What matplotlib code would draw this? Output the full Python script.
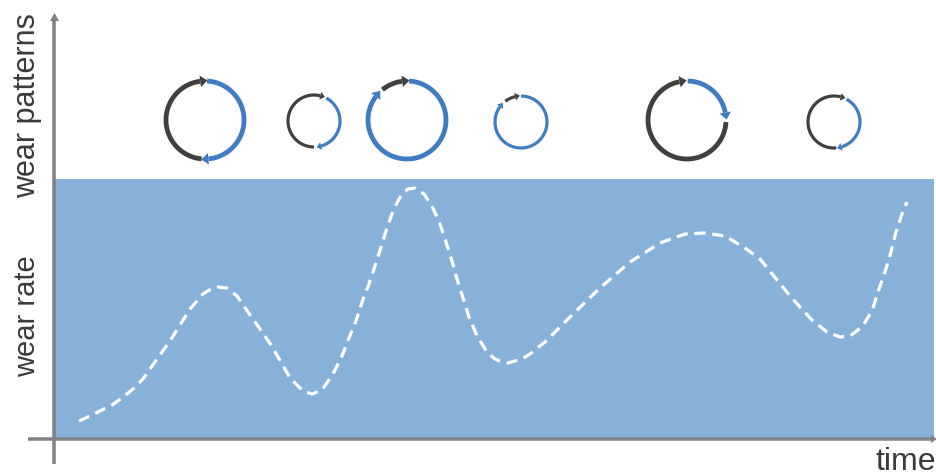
import numpy as np
import matplotlib.pyplot as plt
from matplotlib.patches import Polygon, Rectangle

plt.rcParams['font.family'] = ['Liberation Sans', 'DejaVu Sans']

# wear rate curve (pixels)
curve_x = [79, 90, 100, 112, 122, 133, 143, 157, 170, 180, 190, 203, 211, 218, 227, 237, 248,
           260, 271, 281, 290, 303, 312, 322, 333, 342, 349, 356, 362, 369, 375, 381, 387, 393,
           398, 402, 408, 415, 424, 432, 440, 446, 452, 457, 463, 469, 477, 487, 495, 502, 508,
           522, 530, 545, 570, 600, 630, 660, 685, 705, 725, 745, 760, 773, 786, 799, 812, 827,
           840, 850, 862, 872, 878, 885, 891, 896, 902, 907]
curve_y = [422, 417, 412, 406, 399, 390, 380, 360, 342, 326, 310, 295, 290, 288, 289, 297, 313,
           330, 346, 363, 379, 392, 395, 391, 375, 357, 339, 322, 303, 285, 267, 248, 229, 212,
           202, 195, 190, 189, 195, 207, 225, 243, 262, 280, 299, 318, 337, 353, 360, 363, 364,
           360, 355, 343, 318, 289, 263, 244, 235, 234, 237, 249, 260, 276, 292, 307, 321, 333,
           338, 337, 328, 312, 293, 273, 253, 233, 215, 203]

# wear pattern circles: centre, radius, and arc ends in degrees clockwise from 12 o'clock
circle_x = [205, 314, 407, 521, 687, 834]
circle_y = [121, 122, 121, 123, 121, 123]
circle_r = [39, 26, 39, 26, 39, 26]
blue_start = [3, 28, 3, 0, 1, 29]
blue_end = [175, 165, 308, 306, 80, 163]
dark_start = [185, 180, 321, 323, 93, 175]
dark_end = [353, 374, 354, 348, 350, 375]

BLUE = '#3f7cc2'
DARK = '#404040'
GREY = '#808284'
BAND = '#88b1d9'


def draw_arc(ax, cx, cy, r, start, end, color, lw):
    t = np.radians(np.arange(start, end + 1, 2))
    ax.plot(cx + r * np.sin(t), cy - r * np.cos(t), color=color, lw=lw * 0.72,
            solid_capstyle='butt', zorder=4)
    # arrow head at the clockwise end of the arc
    a = t[-1]
    tang = np.array([np.cos(a), np.sin(a)])
    norm = np.array([np.sin(a), -np.cos(a)])
    tip = np.array([cx + r * np.sin(a), cy - r * np.cos(a)])
    size = lw * 1.5
    ax.add_patch(Polygon([tip + tang * size, tip + norm * size * 0.8, tip - norm * size * 0.8],
                         closed=True, fc=color, ec='none', zorder=5))


fig = plt.figure(figsize=(9.37, 4.77), dpi=100)
ax = fig.add_axes([0, 0, 1, 1])
ax.set_xlim(0, 937)
ax.set_ylim(477, 0)
ax.axis('off')

ax.add_patch(Rectangle((55, 180), 879, 259, fc=BAND, ec='none', zorder=1))

# axes
ax.plot([54.5, 54.5], [20, 465], color=GREY, lw=3.5 * 0.72, solid_capstyle='butt', zorder=3)
ax.plot([28, 932], [440, 440], color=GREY, lw=3.5 * 0.72, solid_capstyle='butt', zorder=3)
ax.add_patch(Polygon([(54.5, 14), (50, 22), (59, 22)], fc=GREY, ec='none', zorder=3))
ax.add_patch(Polygon([(937, 440), (931, 436), (931, 444)], fc=GREY, ec='none', zorder=3))

ax.plot(curve_x, curve_y, color='white', lw=3.2 * 0.72, dashes=(3.5, 2.1),
        dash_joinstyle='round', zorder=2)

for i in range(len(circle_x)):
    lw = 4.8 if circle_r[i] > 30 else 3.2
    draw_arc(ax, circle_x[i], circle_y[i], circle_r[i], blue_start[i], blue_end[i], BLUE, lw)
    draw_arc(ax, circle_x[i], circle_y[i], circle_r[i], dark_start[i], dark_end[i], DARK, lw)

ax.text(35, 106, 'wear patterns', rotation=90, ha='center', va='baseline', rotation_mode='anchor',
        fontsize=22, color='#3a3a3c')
ax.text(35, 316, 'wear rate', rotation=90, ha='center', va='baseline', rotation_mode='anchor',
        fontsize=21, color='#3a3a3c')
ax.text(936, 470, 'time', ha='right', va='baseline', fontsize=23, color='#3a3a3c')

fig.savefig('out.png', dpi=100)
